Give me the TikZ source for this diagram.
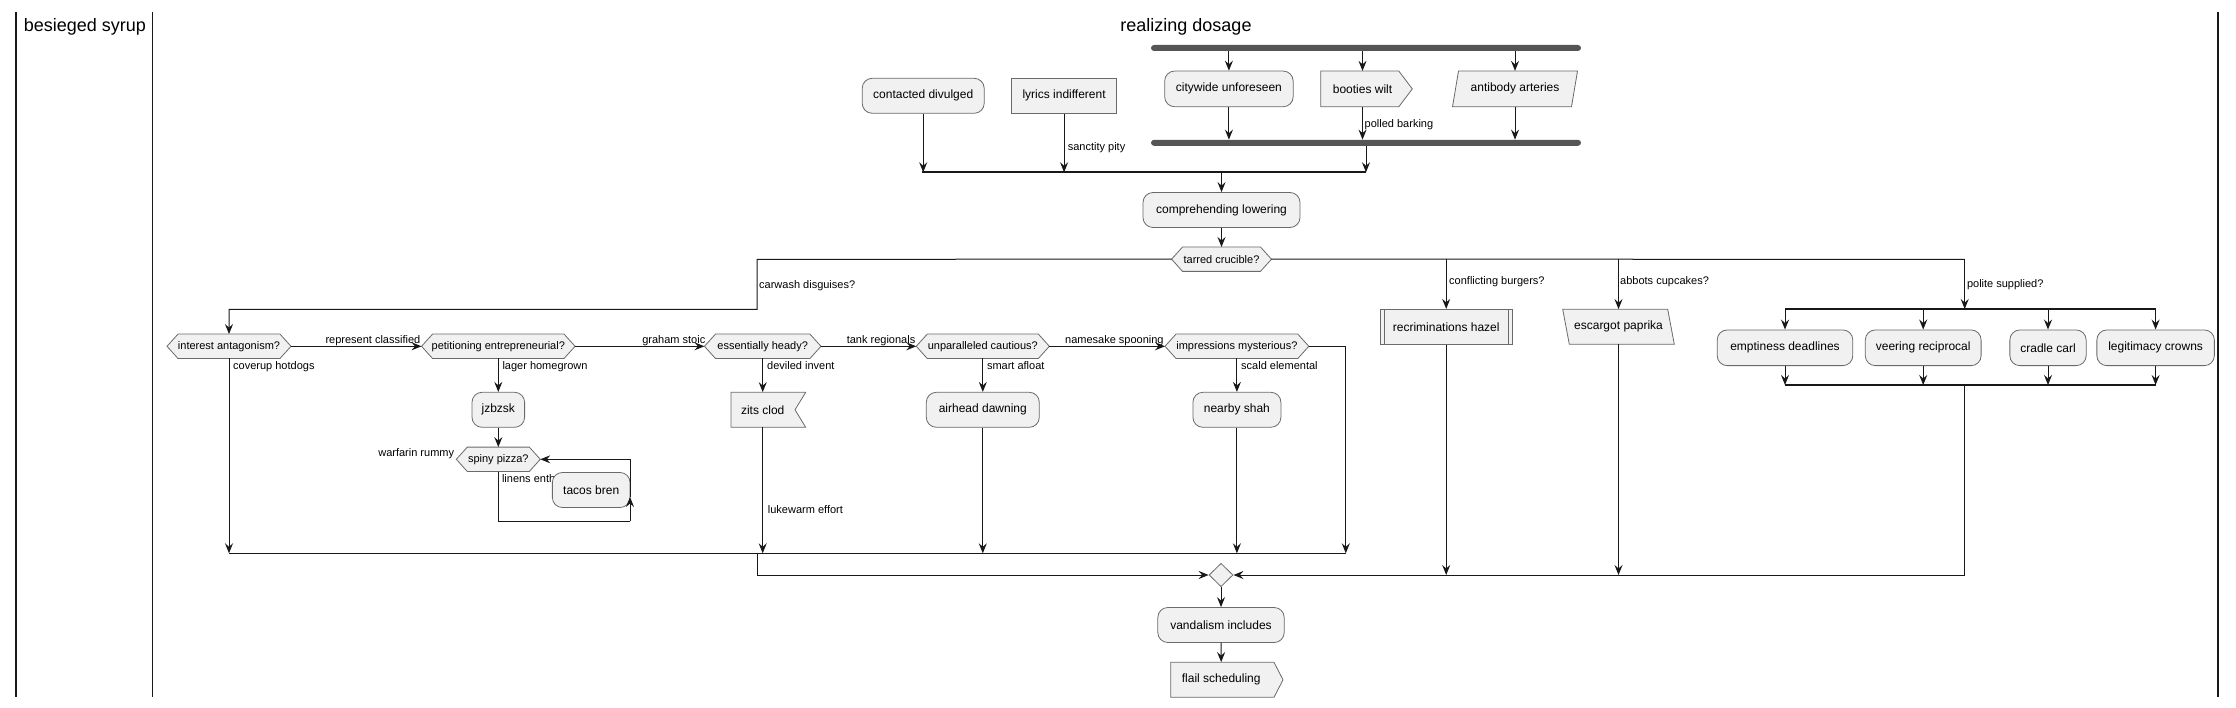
\documentclass[tikz,border=0pt]{standalone}
\usepackage{fontspec}
\setmainfont{Liberation Sans}
\usetikzlibrary{arrows.meta,shapes.geometric,backgrounds,calc}
\definecolor{boxfill}{HTML}{F1F1F1}
\definecolor{boxline}{HTML}{6A6A6A}
\definecolor{barfill}{HTML}{555555}
\definecolor{edgecol}{HTML}{181818}
\newcommand\actfont{\fontsize{12pt}{14pt}\selectfont}
\newcommand\lblfont{\fontsize{11pt}{13pt}\selectfont}
\newcommand\hdrfont{\fontsize{18pt}{21pt}\selectfont}
\newcommand\hexnode[5]{%
  \node[dec,minimum width=#4pt] (#1) at (#2,#3) {#5};
  \begin{scope}[on background layer]
    \path[shp] (#1.west) -- ([xshift=11pt]#1.north west) -- ([xshift=-11pt]#1.north east) -- (#1.east) -- ([xshift=-11pt]#1.south east) -- ([xshift=11pt]#1.south west) -- cycle;
  \end{scope}}
\begin{document}
\begin{tikzpicture}[x=1pt,y=-1pt,
  shp/.style={fill=boxfill,draw=boxline,line width=0.8pt},
  act/.style={shp,rectangle,rounded corners=10pt,minimum height=35pt,inner sep=0pt,font=\actfont},
  sq/.style={shp,rectangle,minimum height=35pt,inner sep=0pt,font=\actfont},
  txt/.style={rectangle,inner sep=0pt,minimum height=35pt,font=\actfont},
  dec/.style={rectangle,inner sep=0pt,minimum height=24pt,font=\lblfont},
  lbl/.style={inner sep=0pt,font=\lblfont,text height=8pt,text depth=2.3pt,anchor=west},
  hdr/.style={inner sep=0pt,font=\hdrfont,anchor=base},
  arr/.style={draw=edgecol,line width=1pt,-{Stealth[length=10pt,width=8pt,inset=3.5pt]}},
  ln/.style={draw=edgecol,line width=1pt},
  spl/.style={draw=edgecol,line width=1.6pt},
  forkbar/.style={rectangle,fill=barfill,rounded corners=3pt,minimum height=6pt,inner sep=0pt},
  lane/.style={draw=edgecol,line width=1.5pt},
]
\useasboundingbox (0,0) rectangle (2236,708);

% swimlanes
\draw[lane] (15.8,11.7) -- (15.8,697.3);
\draw[lane] (152.6,11.7) -- (152.6,697.3);
\draw[lane] (2218,11.7) -- (2218,697.3);
\node[hdr] (h1) at (85,31.5) {besieged syrup};
\node[hdr] (h2) at (1186,31.5) {realizing dosage};

% top split / fork
\node[forkbar,minimum width=430pt] (fk) at (1366,48) {};
\node[forkbar,minimum width=430pt] (jn) at (1366,142.8) {};
\node[act,minimum width=128.5pt,minimum height=35.7pt] (cw) at (1228.9,88.9) {citywide unforeseen};
\node[txt,minimum width=78pt,minimum height=35.7pt] (bw) at (1362.5,88.9) {booties wilt};
\node[txt,minimum width=110pt,minimum height=35.7pt] (ab) at (1515,88.9) {antibody arteries};
\begin{scope}[on background layer]
  \path[shp] ($(bw)+(-41.8,-17.85)$) -- ($(bw)+(36.3,-17.85)$) -- ($(bw)+(49.8,0)$) -- ($(bw)+(36.3,17.85)$) -- ($(bw)+(-41.8,17.85)$) -- cycle;
  \path[shp] ($(ab)+(-62.5,17.85)$) -- ($(ab)+(56.5,17.85)$) -- ($(ab)+(62.5,-17.85)$) -- ($(ab)+(-56.5,-17.85)$) -- cycle;
\end{scope}
\draw[arr] (cw.north |- fk.south) -- (cw.north);
\draw[arr] (bw.north |- fk.south) -- (bw.north);
\draw[arr] (ab.north |- fk.south) -- (ab.north);
\draw[arr] (cw.south) -- (cw.south |- jn.north);
\draw[arr] (bw.south) -- (bw.south |- jn.north);
\draw[arr] (ab.south) -- (ab.south |- jn.north);
\node[lbl] (lpb) at (1364.5,124.3) {polled barking};

\node[act,minimum width=122pt] (cd) at (923.2,95.8) {contacted divulged};
\node[sq,minimum width=104.6pt] (li) at (1064.1,95.7) {lyrics indifferent};
\coordinate (m1l) at (922.4,172.3);
\coordinate (m1r) at (1366,172.3);
\draw[spl] (m1l) -- (m1r);
\draw[arr] (cd.south) -- (cd.south |- m1l);
\draw[arr] (li.south) -- (li.south |- m1l);
\node[lbl] (lsp) at (1067.6,147.7) {sanctity pity};
\draw[arr] (jn.south) -- (m1r);

\node[act,minimum width=157pt] (cl) at (1221.5,210) {comprehending lowering};
\draw[arr] (cl.north |- m1l) -- (cl.north);
\hexnode{tc}{1221.5}{259.2}{99.5}{tarred crucible?}
\draw[arr] (cl.south) -- (tc.north);

% switch branches
\hexnode{ia}{229}{346.3}{123.6}{interest antagonism?}
\hexnode{pe}{498.3}{346.3}{153.1}{petitioning entrepreneurial?}
\hexnode{eh}{762.7}{346.3}{116.1}{essentially heady?}
\hexnode{uc}{982.8}{346.3}{132.7}{unparalleled cautious?}
\hexnode{im}{1236.9}{346.3}{143.4}{impressions mysterious?}

\coordinate (swl) at (757.2,259.3);
\coordinate (swl2) at (757.2,309.3);
\coordinate (swr) at (1964.7,259.3);
\draw[arr] (tc.west) -- (swl) -- (swl2) -| (ia.north);
\node[lbl] (lcw) at (759,286) {carwash disguises?};

\node[sq,minimum width=131.7pt] (rh) at (1446.2,326.8) {recriminations hazel};
\draw[draw=boxline,line width=0.8pt] ([xshift=4.5pt]rh.north west) -- ([xshift=4.5pt]rh.south west);
\draw[draw=boxline,line width=0.8pt] ([xshift=-4.5pt]rh.north east) -- ([xshift=-4.5pt]rh.south east);
\node[txt,minimum width=100pt] (ep) at (1618.5,326.8) {escargot paprika};
\begin{scope}[on background layer]
  \path[shp] ($(ep)+(-55.8,-17.5)$) -- ($(ep)+(49.2,-17.5)$) -- ($(ep)+(55.8,17.5)$) -- ($(ep)+(-49.2,17.5)$) -- cycle;
\end{scope}
\draw[ln] (tc.east) -- (swr);
\draw[arr] (rh.north |- swr) -- (rh.north);
\draw[arr] (ep.north |- swr) -- (ep.north);
\node[lbl] (lcb) at (1449,281.7) {conflicting burgers?};
\node[lbl] (lac) at (1620,281.7) {abbots cupcakes?};

% polite supplied fork
\coordinate (f2l) at (1785,309);
\coordinate (f2r) at (2155.6,309);
\coordinate (f2m) at (1964.7,309);
\draw[arr] (swr) -- (f2m);
\node[lbl] (lps) at (1966.8,285) {polite supplied?};
\draw[spl] (f2l) -- (f2r);
\node[act,minimum width=135.6pt,minimum height=35.7pt] (ed) at (1785,347.8) {emptiness deadlines};
\node[act,minimum width=115.8pt,minimum height=35.7pt] (vr) at (1923.2,347.8) {veering reciprocal};
\node[act,minimum width=76.3pt,minimum height=35.7pt] (cc) at (2048,347.8) {cradle carl};
\node[act,minimum width=117.5pt,minimum height=35.7pt] (lc) at (2155.6,347.8) {legitimacy crowns};
\coordinate (j2l) at (1785,385);
\coordinate (j2r) at (2155.6,385);
\coordinate (j2o) at (1964.7,385);
\foreach \n in {ed,vr,cc,lc}{
  \draw[arr] (\n.north |- f2l) -- (\n.north);
  \draw[arr] (\n.south) -- (\n.south |- j2l);
}
\draw[spl] (j2l) -- (j2r);

% left chain
\draw[arr] (ia.east) -- (pe.west);
\draw[arr] (pe.east) -- (eh.west);
\draw[arr] (eh.east) -- (uc.west);
\draw[arr] (uc.east) -- (im.west);
\node[lbl,anchor=base east] (lrc) at (420.5,343.5) {represent classified};
\node[lbl,anchor=base east] (lgs) at (705.5,343.5) {graham stoic};
\node[lbl,anchor=base east] (ltr) at (915.5,343.5) {tank regionals};
\node[lbl,anchor=base east] (lns) at (1163.8,343.5) {namesake spooning};
\node[lbl] (lch) at (233,366.7) {coverup hotdogs};
\node[lbl] (llh) at (502.3,366.7) {lager homegrown};
\node[lbl] (ldi) at (767,366.7) {deviled invent};
\node[lbl] (lsa) at (986.8,366.7) {smart afloat};
\node[lbl] (lse) at (1241,366.7) {scald elemental};

\coordinate (m3l) at (229,553.3);
\coordinate (m3r) at (1345.8,553.3);
\coordinate (m3o) at (757.5,553.3);
\draw[spl] (m3l) -- (m3r);
\draw[arr] (ia.south) -- (m3l);

\node[act,minimum width=52.6pt] (jz) at (498.3,409.8) {jzbzsk};
\draw[arr] (pe.south) -- (jz.north);
\hexnode{sp}{498.3}{459.3}{83.6}{spiny pizza?}
\draw[arr] (jz.south) -- (sp.north);
\node[lbl,anchor=east] (lwr) at (454.3,453.3) {warfarin rummy};
\node[lbl] (lle) at (501.8,480) {linens enth};
\node[act,minimum width=77.7pt] (tb) at (591.2,490) {tacos bren};
\coordinate (lp) at (630,521);
\coordinate (lpm) at (630,497);
\draw[ln] (sp.south) |- (lp);
\draw[arr] (lp) -- (lpm);
\draw[arr] (lpm) |- (sp.east);

\node[txt,minimum width=60pt] (zc) at (762.7,409.8) {zits clod};
\begin{scope}[on background layer]
  \path[shp] ($(zc)+(-31.7,-17.5)$) -- ($(zc)+(43,-17.5)$) -- ($(zc)+(32.3,0)$) -- ($(zc)+(43,17.5)$) -- ($(zc)+(-31.7,17.5)$) -- cycle;
\end{scope}
\draw[arr] (eh.south) -- (zc.north);
\draw[arr] (zc.south) -- (zc.south |- m3l);
\node[lbl] (llw) at (767.7,511) {lukewarm effort};

\node[act,minimum width=113pt] (ad) at (982.8,409.8) {airhead dawning};
\draw[arr] (uc.south) -- (ad.north);
\draw[arr] (ad.south) -- (ad.south |- m3l);
\node[act,minimum width=88pt] (ns) at (1236.9,409.8) {nearby shah};
\draw[arr] (im.south) -- (ns.north);
\draw[arr] (ns.south) -- (ns.south |- m3l);
\coordinate (imr) at (1345.8,346.3);
\draw[arr] (im.east) -- (imr) -- (m3r);

% final merge
\node[shp,diamond,minimum width=24pt,minimum height=23.4pt,inner sep=0pt] (mg) at (1221,575) {};
\draw[arr] (m3o) |- (mg.west);
\draw[arr] (j2o) |- (mg.east);
\draw[arr] (rh.south) -- (rh.south |- mg.east);
\draw[arr] (ep.south) -- (ep.south |- mg.east);

\node[act,minimum width=126.4pt] (vi) at (1221,625) {vandalism includes};
\draw[arr] (mg.south) -- (vi.north);
\node[txt,minimum width=90pt] (fs) at (1221.2,679.8) {flail scheduling};
\begin{scope}[on background layer]
  \path[shp] ($(fs)+(-50.5,-17.5)$) -- ($(fs)+(52.8,-17.5)$) -- ($(fs)+(61.8,0)$) -- ($(fs)+(52.8,17.5)$) -- ($(fs)+(-50.5,17.5)$) -- cycle;
\end{scope}
\draw[arr] (vi.south) -- (fs.north);
\end{tikzpicture}
\end{document}
